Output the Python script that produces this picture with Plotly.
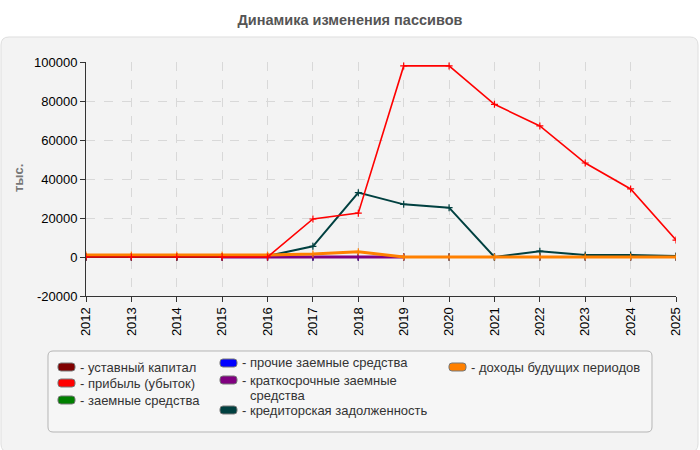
import plotly.graph_objects as go

years = [2012, 2013, 2014, 2015, 2016, 2017, 2018, 2019, 2020, 2021, 2022, 2023, 2024, 2025]
x_labels = [str(y) for y in years]
y_tick_vals = [-20000, 0, 20000, 40000, 60000, 80000, 100000]
y_tick_text = ["-20000", "0", "20000", "40000", "60000", "80000", "100000"]

ustavny = [10, 10, 10, 10, 10, 10, 10, 10, 10, 10, 10, 10, 10, 10]
pribyl = [0, 0, 0, 0, 0, 19500, 22500, 98000, 98000, 78300, 67200, 48200, 34900, 8700]
zaemnye = [0, 0, 0, 0, 0, 0, 0, 0, 0, 0, 0, 0, 0, 0]
prochie = [0, 0, 0, 0, 0, 0, 0, 0, 0, 0, 0, 0, 0, 0]
kratkosroch = [None, None, None, 0, 0, 0, 0, 0, None, None, None, None, None, None]
kreditor = [0, 0, 0, 0, 500, 5500, 33000, 27000, 25300, 0, 3000, 1000, 1000, 500]
dohody = [1000, 1000, 1000, 1000, 1000, 1500, 2700, 0, 0, 0, 0, 0, 0, 0]

names = ["уставный капитал", "прибыль (убыток)", "заемные средства",
         "прочие заемные средства", "краткосрочные заемные<br>средства",
         "кредиторская задолженность", "доходы будущих периодов"]
values = [ustavny, pribyl, zaemnye, prochie, kratkosroch, kreditor, dohody]
colors = ["#800000", "#ff0000", "#008000", "#0000ff", "#800080", "#004040", "#ff8000"]
widths = [2, 1.6, 2, 2, 3, 2, 3]
draw_order = [0, 2, 3, 5, 4, 6, 1]

FONT = "Liberation Sans, Arial, sans-serif"

fig = go.Figure()
for i in draw_order:
    fig.add_trace(go.Scatter(
        x=x_labels, y=values[i], mode="lines+markers", name=names[i].replace("<br>", " "),
        line=dict(color=colors[i], width=widths[i]),
        marker=dict(symbol="cross-thin", size=5, line=dict(color=colors[i], width=1.2)),
        showlegend=False,
    ))

L, R, T, B = 86, 24, 62, 154
W, H = 700, 450
PW, PH = W - L - R, H - T - B

def px_x(px):
    return (px - L) / PW

def px_y(py):
    return (H - B - py) / PH

def rrect(x0, y0, x1, y1, r):
    def P(x, y):
        return f"{px_x(x):.5f},{px_y(y):.5f}"
    return (f"M{P(x0 + r, y0)} L{P(x1 - r, y0)} Q{P(x1, y0)} {P(x1, y0 + r)} "
            f"L{P(x1, y1 - r)} Q{P(x1, y1)} {P(x1 - r, y1)} L{P(x0 + r, y1)} "
            f"Q{P(x0, y1)} {P(x0, y1 - r)} L{P(x0, y0 + r)} Q{P(x0, y0)} {P(x0 + r, y0)} Z")

shapes = [
    dict(type="path", xref="paper", yref="paper", layer="below",
         path=rrect(1, 37, 698, 452, 8), fillcolor="#f3f3f3",
         line=dict(color="#dedede", width=1)),
    dict(type="path", xref="paper", yref="paper", layer="below",
         path=rrect(48, 351, 652, 432, 5), fillcolor="#f6f6f6",
         line=dict(color="#b5b5b5", width=1)),
]

annotations = [
    dict(text="<b>тыс.</b>", xref="paper", yref="paper", x=px_x(18), y=px_y(178),
         textangle=-90, showarrow=False, font=dict(family=FONT, size=13, color="#777777"),
         xanchor="center", yanchor="middle"),
]

leg_pos = [(58, 367), (58, 383), (58, 400), (220, 363), (220, 380), (220, 410), (449, 367)]
for i, (lx, ly) in enumerate(leg_pos):
    shapes.append(dict(type="path", xref="paper", yref="paper",
                       path=rrect(lx, ly - 4, lx + 17, ly + 4, 3),
                       fillcolor=colors[i], line=dict(color="#777777", width=1)))
    lines = names[i].split("<br>")
    annotations.append(dict(text="- " + lines[0], xref="paper", yref="paper",
                            x=px_x(lx + 20), y=px_y(ly), xanchor="left", yanchor="middle",
                            showarrow=False, font=dict(family=FONT, size=13, color="#333333")))
    for k, extra in enumerate(lines[1:]):
        annotations.append(dict(text=extra, xref="paper", yref="paper",
                                x=px_x(lx + 28), y=px_y(ly + 15 * (k + 1)), xanchor="left",
                                yanchor="middle", showarrow=False,
                                font=dict(family=FONT, size=13, color="#333333")))

fig.update_layout(
    width=W, height=H,
    margin=dict(l=L, r=R, t=T, b=B),
    paper_bgcolor="#ffffff",
    plot_bgcolor="#fbfbf4",
    showlegend=False,
    font=dict(family=FONT, size=13, color="#000000"),
    title=dict(text="<b>Динамика изменения пассивов</b>", x=0.5, xanchor="center",
               y=1 - 20 / H, yanchor="middle",
               font=dict(size=14.5, color="#555555")),
    shapes=shapes,
    annotations=annotations,
    xaxis=dict(
        type="category", tickangle=-90, showline=True, linecolor="#333333", linewidth=1,
        ticks="outside", ticklen=5, tickcolor="#333333", automargin=False,
        showgrid=True, gridcolor="#d8d8d8", griddash="dash",
        range=[0, 13], tickfont=dict(size=13),
    ),
    yaxis=dict(
        range=[-20000, 100000], tickvals=y_tick_vals, ticktext=y_tick_text,
        showline=True, linecolor="#333333", linewidth=1,
        ticks="outside", ticklen=5, tickcolor="#333333", automargin=False,
        showgrid=True, gridcolor="#d8d8d8", griddash="dash", zeroline=False,
        tickfont=dict(size=13),
    ),
)

fig.write_html("out.html")
